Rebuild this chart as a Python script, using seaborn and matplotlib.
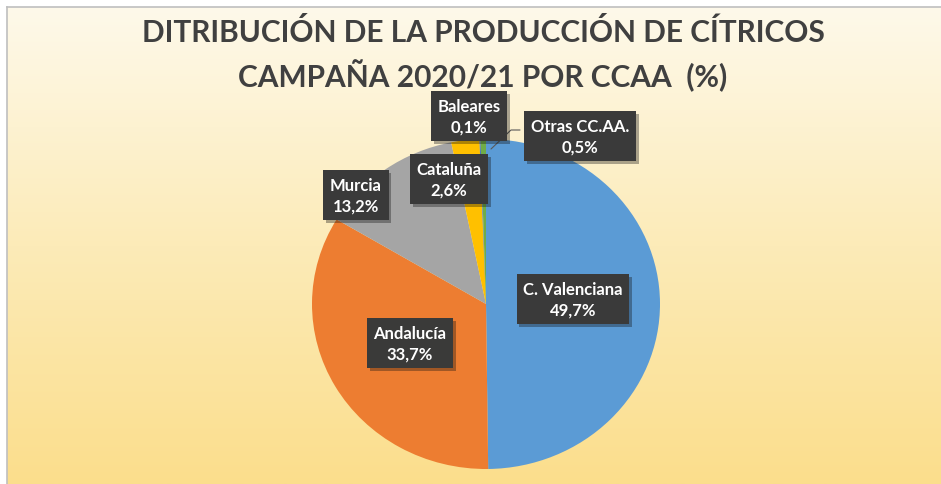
import numpy as np
import matplotlib
matplotlib.use("Agg")
import matplotlib.pyplot as plt
import matplotlib.patheffects as pe
from matplotlib.colors import LinearSegmentedColormap
import seaborn as sns

# data (clockwise from 12 o'clock)
regions = ["C. Valenciana", "Andalucía", "Murcia", "Cataluña", "Baleares", "Otras CC.AA."]
shares = [49.7, 33.7, 13.2, 2.6, 0.1, 0.5]
slice_colors = ["#5B9BD5", "#ED7D31", "#A5A5A5", "#FFC000", "#4472C4", "#70AD47"]

# label box centres in figure pixels (x from left, y from top)
label_px = [(573, 300), (410, 344), (356, 196), (449, 180), (469, 117), (580, 137)]

W, H = 941, 485

sns.set_style("white")
plt.rcParams["font.family"] = ["Lato", "DejaVu Sans"]

fig = plt.figure(figsize=(W / 100, H / 100), dpi=100)
fig.patch.set_facecolor("white")

# chart area with yellow gradient
bg = fig.add_axes([7 / W, 0, 1 - 7 / W, 1 - 8 / H])
cmap = LinearSegmentedColormap.from_list("bg", ["#FEF9EA", "#FCEBB8", "#FBDE8C"])
grad = np.linspace(0, 1, 256).reshape(-1, 1)
bg.imshow(grad, aspect="auto", cmap=cmap, extent=[0, 1, 0, 1], origin="upper")
bg.set_xlim(0, 1)
bg.set_ylim(0, 1)
bg.set_xticks([])
bg.set_yticks([])
for side in ["right", "bottom"]:
    bg.spines[side].set_visible(False)
for side in ["left", "top"]:
    bg.spines[side].set_color("#BFBFBF")
    bg.spines[side].set_linewidth(1.2)

# pie axes (slightly wider than tall, as in the source)
left, right, top, bottom = 312, 660, 140, 470
ax = fig.add_axes([left / W, 1 - bottom / H, (right - left) / W, (bottom - top) / H])
ax.pie(shares, colors=slice_colors, startangle=90, counterclock=False,
       wedgeprops=dict(linewidth=0))
ax.set_aspect("auto")
ax.set_xlim(-1, 1)
ax.set_ylim(-1, 1)
ax.patch.set_alpha(0)

cx = (left + right) / 2
cy = (top + bottom) / 2
rx = (right - left) / 2
ry = (bottom - top) / 2


def to_data(px, py):
    return (px - cx) / rx, (cy - py) / ry


# leader line for Otras CC.AA.
x0, y0 = to_data(520, 131)
x1, y1 = to_data(511, 131)
x2, y2 = to_data(491, 150)
ax.plot([x0, x1, x2], [y0, y1, y2], color="#595959", lw=0.8, clip_on=False, zorder=3)

for name, val, (px, py) in zip(regions, shares, label_px):
    tx, ty = to_data(px, py)
    lbl = f"{name}\n" + f"{val:.1f}".replace(".", ",") + "%"
    t = ax.text(tx, ty, lbl, ha="center", va="center", color="white",
                fontsize=12, fontweight="bold", linespacing=1.35, clip_on=False, zorder=5,
                bbox=dict(boxstyle="square,pad=0.4", facecolor="#3A3A3A",
                          edgecolor="none", alpha=0.95))
    t.get_bbox_patch().set_path_effects([pe.withSimplePatchShadow(offset=(2, -2), alpha=0.35),
                                         pe.Normal()])

fig.text(483 / W, 1 - 55 / H,
         "DITRIBUCIÓN DE LA PRODUCCIÓN DE CÍTRICOS\nCAMPAÑA 2020/21 POR CCAA  (%)",
         ha="center", va="center", fontsize=21.5, fontweight="bold", color="#404040",
         linespacing=1.45)

fig.savefig("out.png", dpi=100, facecolor=fig.get_facecolor())
